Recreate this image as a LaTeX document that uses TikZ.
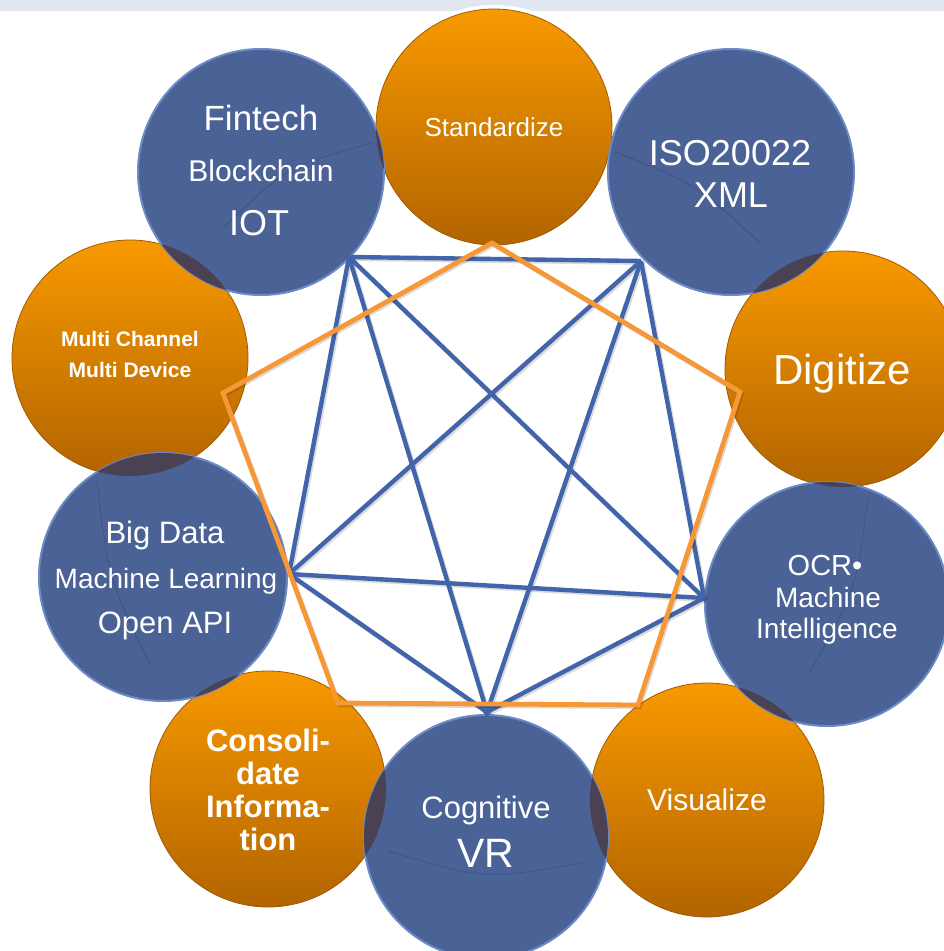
\documentclass[tikz,border=0pt]{standalone}
\usepackage{fontspec}
\setmainfont{Liberation Sans}
\definecolor{bandc}{RGB}{225,231,242}
\definecolor{blueb}{RGB}{74,98,150}
\definecolor{bluerim}{RGB}{108,138,198}
\definecolor{bluearc}{RGB}{52,76,132}
\definecolor{orgtop}{RGB}{248,153,0}
\definecolor{orgmid}{RGB}{236,139,0}
\definecolor{orgbot}{RGB}{178,100,0}
\definecolor{linkblue}{RGB}{66,100,170}
\definecolor{pentorange}{RGB}{247,152,56}
\definecolor{overlapc}{RGB}{74,66,82}
\newcommand\darkoverlap[4]{\begin{scope}\clip (#1.center) circle (#2);\fill[overlapc] (#3.center) circle (#4);\end{scope}}
\tikzset{
  orangeball/.style={circle, inner sep=0pt, minimum size=#1, top color=orgtop, middle color=orgmid, bottom color=orgbot, draw=orgbot!90!black, line width=0.8pt},
  blueball/.style={circle, inner sep=0pt, minimum size=#1, fill=blueb, draw=bluerim, line width=2pt},
  arcline/.style={draw=bluearc, line width=0.9pt, opacity=0.6},
  lbl/.style={text=white, inner sep=0pt, anchor=base, align=center},
  link/.style={draw=linkblue, line width=4.4pt, line join=miter},
  linkshadow/.style={draw=black, opacity=0.14, line width=4.4pt},
  pent/.style={draw=pentorange, line width=4.8pt, line join=miter},
}
\begin{document}
\begin{tikzpicture}[x=1pt, y=-1pt]
\useasboundingbox (0,0) rectangle (944,951);
\fill[bandc] (0,0) rectangle (944,11);
% white halo of the top ball
\fill[white] (494,127) circle (122);
% orange balls
\node[orangeball=236pt] (Std) at (494,127) {};
\node[orangeball=236pt] (Multi) at (130,358) {};
\node[orangeball=236pt] (Dig) at (843,369) {};
\node[orangeball=236pt] (Cons) at (268,789) {};
\node[orangeball=234pt] (Vis) at (707,800) {};
% blue balls
\node[blueball=246pt] (Fin) at (261,172) {};
\node[blueball=246pt] (ISO) at (731,172) {};
\node[blueball=248pt] (Big) at (163,577) {};
\node[blueball=244pt] (OCR) at (827,604) {};
\node[blueball=244pt] (Cog) at (486,837) {};
% dark overlaps
\darkoverlap{Fin}{123}{Multi}{118}
\darkoverlap{Fin}{123}{Std}{118}
\darkoverlap{ISO}{123}{Std}{118}
\darkoverlap{ISO}{123}{Dig}{118}
\darkoverlap{Big}{124}{Multi}{118}
\darkoverlap{Big}{124}{Cons}{118}
\darkoverlap{OCR}{122}{Dig}{118}
\darkoverlap{OCR}{122}{Vis}{117}
\darkoverlap{Cog}{122}{Cons}{118}
\darkoverlap{Cog}{122}{Vis}{117}
% faint reflection arcs
\draw[arcline] (223,228) .. controls (288,166) .. (372,143);
\draw[arcline] (615,152) .. controls (696,184) .. (760,243);
\draw[arcline] (97,480) .. controls (108,577) .. (150,665);
\draw[arcline] (868,497) .. controls (856,590) .. (810,672);
\draw[arcline] (388,851) .. controls (485,880) .. (585,862);
% texts
\node[lbl, font=\fontsize{35}{40}\selectfont] (tFin1) at (261,130) {Fintech};
\node[lbl, font=\fontsize{30}{36}\selectfont] (tFin2) at (261,181) {Blockchain};
\node[lbl, font=\fontsize{36}{40}\selectfont] (tFin3) at (259,235) {IOT};
\node[lbl, font=\fontsize{26}{30}\selectfont] (tStd) at (494,136) {Standardize};
\node[lbl, font=\fontsize{36}{40}\selectfont] (tISO1) at (730,165) {ISO20022};
\node[lbl, font=\fontsize{36}{40}\selectfont] (tISO2) at (731,207) {XML};
\node[lbl, font=\bfseries\fontsize{21}{25}\selectfont] (tMul1) at (130,346) {Multi Channel};
\node[lbl, font=\bfseries\fontsize{21}{25}\selectfont] (tMul2) at (130,377) {Multi Device};
\node[lbl, font=\fontsize{42}{46}\selectfont] (tDig) at (842,384) {Digitize};
\node[lbl, font=\fontsize{31}{36}\selectfont] (tBig1) at (165,543) {Big Data};
\node[lbl, font=\fontsize{28}{32}\selectfont] (tBig2) at (166,588) {Machine Learning};
\node[lbl, font=\fontsize{31}{36}\selectfont] (tBig3) at (165,633) {Open API};
\node[lbl, font=\fontsize{29}{32}\selectfont] (tOCR1) at (825,575) {OCR•};
\node[lbl, font=\fontsize{28}{32}\selectfont] (tOCR2) at (828,607) {Machine};
\node[lbl, font=\fontsize{28}{32}\selectfont] (tOCR3) at (827,638) {Intelligence};
\node[lbl, font=\bfseries\fontsize{31}{33}\selectfont] (tCon1) at (268,751) {Consoli-};
\node[lbl, font=\bfseries\fontsize{31}{33}\selectfont] (tCon2) at (268,784) {date};
\node[lbl, font=\bfseries\fontsize{31}{33}\selectfont] (tCon3) at (268,817) {Informa-};
\node[lbl, font=\bfseries\fontsize{31}{33}\selectfont] (tCon4) at (268,850) {tion};
\node[lbl, font=\fontsize{31}{36}\selectfont] (tCog1) at (486,818) {Cognitive};
\node[lbl, font=\fontsize{41}{46}\selectfont] (tCog2) at (486,867) {VR};
\node[lbl, font=\fontsize{30}{34}\selectfont] (tVis) at (707,810) {Visualize};
% link vertices
\coordinate (A) at (349,257);
\coordinate (B) at (641,261);
\coordinate (C) at (289,574);
\coordinate (D) at (704,598);
\coordinate (E) at (487,712);
% shadows of links
\begin{scope}[transform canvas={shift={(1.6pt,-1.8pt)}}]
\foreach \u/\v in {A/B,A/C,A/D,A/E,B/C,B/D,B/E,C/D,C/E,D/E} \draw[linkshadow] (\u) -- (\v);
\end{scope}
\foreach \u/\v in {A/B,A/C,A/D,A/E,B/C,B/D,B/E,C/D,C/E,D/E} \draw[link] (\u) -- (\v);
\fill[linkblue] (479,706) -- (495,706) -- (487,718) -- cycle;
% orange pentagon
\coordinate (P1) at (492,243);
\coordinate (P2) at (740,392);
\coordinate (P3) at (638,705);
\coordinate (P4) at (338,703);
\coordinate (P5) at (223,393);
\begin{scope}[transform canvas={shift={(1.6pt,-1.8pt)}}]
\draw[linkshadow] (P1) -- (P2) -- (P3) -- (P4) -- (P5) -- cycle;
\end{scope}
\draw[pent] (P1) -- (P2) -- (P3) -- (P4) -- (P5) -- cycle;
\end{tikzpicture}
\end{document}
